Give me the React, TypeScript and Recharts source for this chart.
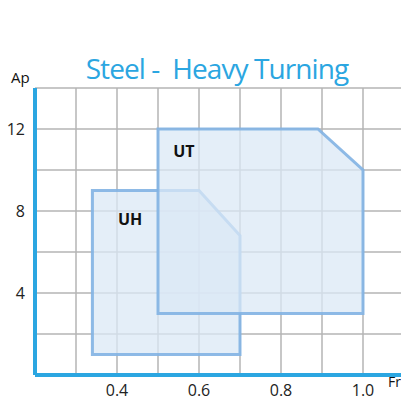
import { ComposedChart, Scatter, XAxis, YAxis, CartesianGrid, ReferenceDot } from 'recharts'

// polygon outlines, vertices in order (x = Fr, y = Ap)
const uhPoints = [
  { x: 0.34, y: 1 },
  { x: 0.34, y: 9 },
  { x: 0.6, y: 9 },
  { x: 0.7, y: 6.8 },
  { x: 0.7, y: 1 },
]

const utPoints = [
  { x: 0.5, y: 3 },
  { x: 0.5, y: 12 },
  { x: 0.89, y: 12 },
  { x: 1.0, y: 10 },
  { x: 1.0, y: 3 },
]

const regionLabels = [
  { name: 'UH', x: 0.432, y: 7.6 },
  { name: 'UT', x: 0.563, y: 10.9 },
]

const xTicks = [0.4, 0.6, 0.8, 1.0]
const yTicks = [4, 8, 12]
const xGrid = [0.3, 0.4, 0.5, 0.6, 0.7, 0.8, 0.9, 1.0, 1.1]
const yGrid = [2, 4, 6, 8, 10, 12]

const BLUE = '#2ba6e1'
const FONT = '"Open Sans", sans-serif'

const polyLine = {
  fill: '#dae8f5',
  fillOpacity: 0.74,
  stroke: '#82b3e3',
  strokeOpacity: 0.9,
  strokeWidth: 3,
}

const noDot = () => <g />

export default function App() {
  return (
    <div style={{ position: 'absolute', left: 0, top: 0, width: 401, height: 403, overflow: 'hidden', background: '#fff' }}>
      <div
        style={{
          position: 'absolute',
          left: 0,
          right: 0,
          top: 50,
          textAlign: 'center',
          paddingLeft: 33,
          fontFamily: FONT,
          fontSize: 28,
          color: BLUE,
          letterSpacing: -0.9,
          whiteSpace: 'pre',
          lineHeight: '36px',
        }}
      >
        {'Steel -  Heavy Turning'}
      </div>
      <div style={{ position: 'absolute', left: 11, top: 67, fontFamily: FONT, fontSize: 15, color: '#111' }}>Ap</div>
      <div style={{ position: 'absolute', left: 388, top: 372, fontFamily: FONT, fontSize: 14, color: '#111' }}>Fr</div>
      <ComposedChart width={404} height={403} margin={{ top: 88, right: 0, bottom: 0, left: 0 }}>
        <XAxis
          type="number"
          dataKey="x"
          domain={[0.2, 1.1]}
          ticks={xTicks}
          tickFormatter={(v: number) => v.toFixed(1)}
          allowDataOverflow
          axisLine={{ stroke: BLUE, strokeWidth: 4 }}
          tickLine={false}
          tick={{ fontSize: 16, fill: '#222', fontFamily: FONT }}
          tickMargin={4}
          height={28}
        />
        <YAxis
          type="number"
          dataKey="y"
          domain={[0, 14]}
          ticks={yTicks}
          allowDataOverflow
          axisLine={{ stroke: BLUE, strokeWidth: 4 }}
          tickLine={false}
          tick={{ fontSize: 16, fill: '#222', fontFamily: FONT }}
          tickMargin={4}
          width={35}
        />
        <XAxis xAxisId="grid" type="number" dataKey="x" domain={[0.2, 1.1]} ticks={xGrid} hide allowDataOverflow />
        <YAxis yAxisId="grid" type="number" dataKey="y" domain={[0, 14]} ticks={yGrid} hide allowDataOverflow />
        <CartesianGrid xAxisId="grid" yAxisId="grid" stroke="#b5b5b5" strokeWidth={1.5} />
        <Scatter
          data={uhPoints}
          line={polyLine}
          lineType="joint"
          lineJointType="linearClosed"
          shape={noDot}
          isAnimationActive={false}
        />
        <Scatter
          data={utPoints}
          line={polyLine}
          lineType="joint"
          lineJointType="linearClosed"
          shape={noDot}
          isAnimationActive={false}
        />
        {regionLabels.map((r) => (
          <ReferenceDot
            key={r.name}
            x={r.x}
            y={r.y}
            r={0}
            fill="none"
            stroke="none"
            label={{ value: r.name, position: 'center', fontSize: 16, fontWeight: 700, fill: '#111', fontFamily: FONT }}
          />
        ))}
      </ComposedChart>
    </div>
  )
}
